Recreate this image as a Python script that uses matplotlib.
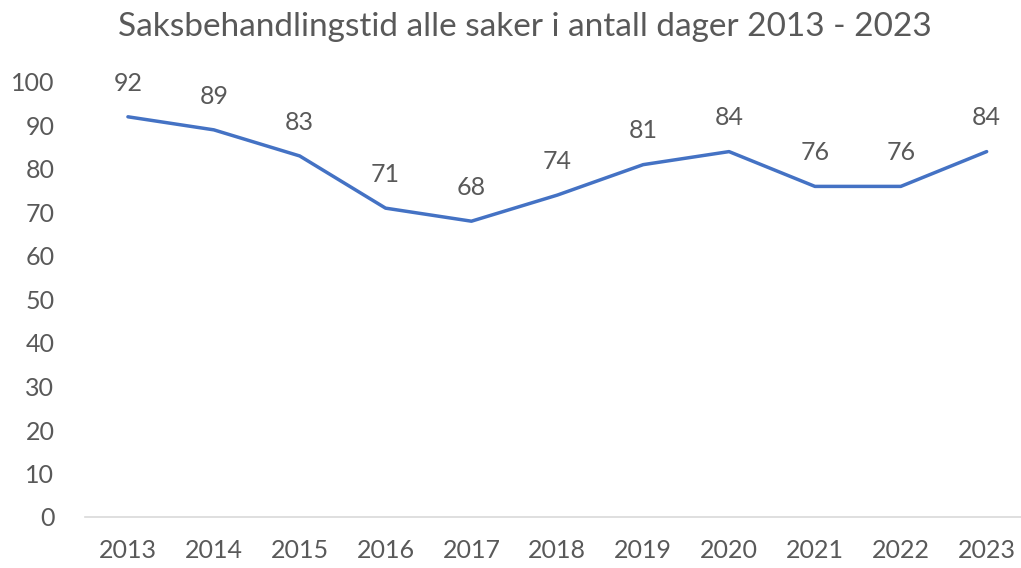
import matplotlib
matplotlib.use("Agg")
import matplotlib.pyplot as plt

# data
years = ["2013", "2014", "2015", "2016", "2017", "2018", "2019", "2020", "2021", "2022", "2023"]
days = [92, 89, 83, 71, 68, 74, 81, 84, 76, 76, 84]
yticks = [0, 10, 20, 30, 40, 50, 60, 70, 80, 90, 100]

plt.rcParams['font.family'] = ['Lato', 'DejaVu Sans']
txt_color = "#595959"

fig = plt.figure(figsize=(10.21, 5.68), dpi=100)
ax = fig.add_axes([85 / 1021, 51 / 568, (1021 - 85) / 1021, 435 / 568])

x = list(range(len(years)))
ax.plot(x, days, color="#4472C4", linewidth=2.5, solid_capstyle="round")

for xi, v in zip(x, days):
    ax.annotate(str(v), (xi, v), xytext=(0, 16), textcoords="offset points",
                ha="center", va="bottom", fontsize=18, color=txt_color)

ax.set_xlim(-0.5, 10.4)
ax.set_ylim(0, 100)
ax.set_xticks(x)
ax.set_xticklabels(years)
ax.set_yticks(yticks)
ax.tick_params(axis="both", length=0, labelsize=18, labelcolor=txt_color)
ax.tick_params(axis="x", pad=16)
ax.tick_params(axis="y", pad=22)

for s in ["top", "right", "left"]:
    ax.spines[s].set_visible(False)
ax.spines["bottom"].set_color("#D9D9D9")
ax.spines["bottom"].set_linewidth(1.2)

fig.text(525 / 1021, 1 - 27 / 568, "Saksbehandlingstid alle saker i antall dager 2013 - 2023",
         ha="center", va="center", fontsize=24, color=txt_color)

fig.savefig("out.png", dpi=100)
